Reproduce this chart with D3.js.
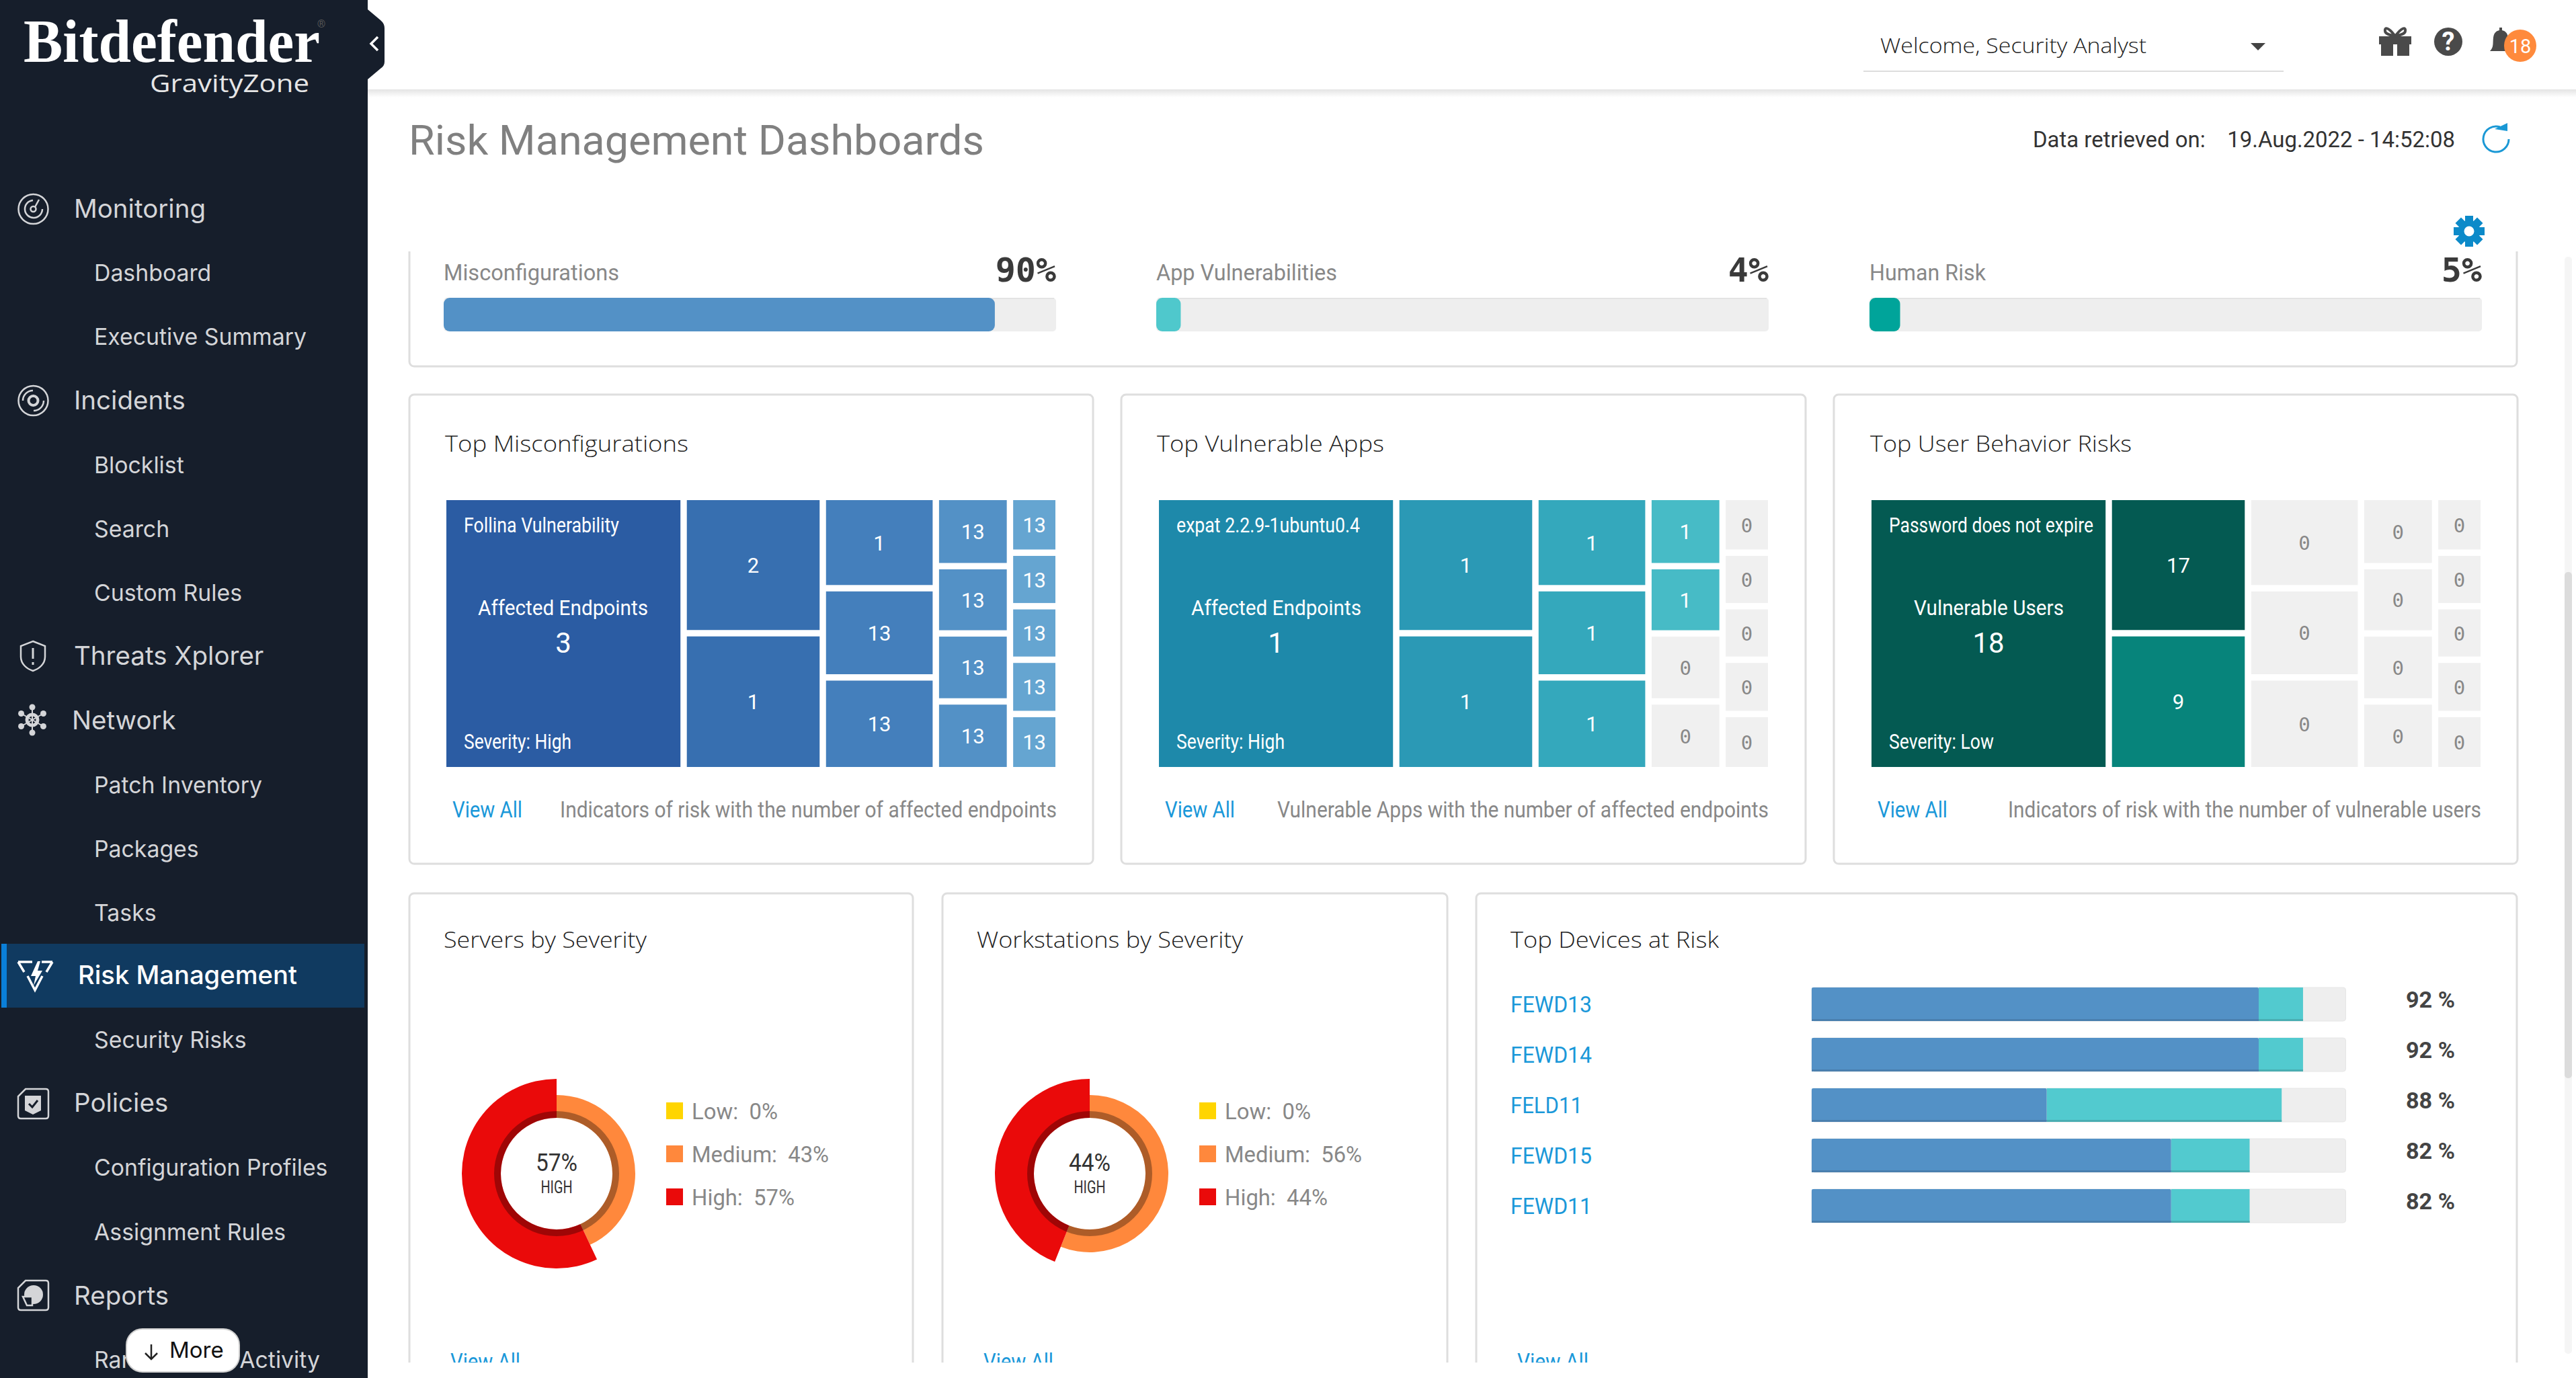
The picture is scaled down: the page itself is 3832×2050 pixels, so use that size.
<!DOCTYPE html>
<html><head><meta charset="utf-8">
<script src="https://cdn.jsdelivr.net/npm/d3@7/dist/d3.min.js"></script>
<style>html,body{margin:0;padding:0;background:#fff;overflow:hidden}svg{display:block}text{white-space:pre}</style>
</head><body><svg id="c" width="3832" height="2050" viewBox="0 0 3832 2050"></svg>
<script>
// ---- data ----
const navTop = ["Monitoring","Incidents","Threats Xplorer","Network","Policies","Reports"];
const navSub = ["Dashboard","Executive Summary","Blocklist","Search","Custom Rules","Patch Inventory","Packages","Tasks","Security Risks","Configuration Profiles","Assignment Rules","Ransomware Activity"];
const riskLabels = ["Misconfigurations","App Vulnerabilities","Human Risk"];
const riskValues = [90,4,5];
const treemapTitles = ["Top Misconfigurations","Top Vulnerable Apps","Top User Behavior Risks"];
const treemapNotes = ["Indicators of risk with the number of affected endpoints","Vulnerable Apps with the number of affected endpoints","Indicators of risk with the number of vulnerable users"];
const misconfigValues = [[3],[2,1],[1,13,13],[13,13,13,13],[13,13,13,13,13]];
const vulnAppValues = [[1],[1,1],[1,1,1],[1,1,0,0],[0,0,0,0,0]];
const userRiskValues = [[18],[17,9],[0,0,0],[0,0,0,0],[0,0,0,0,0]];
const tileWeights = [[3585],[1035,1040],[563,550,572],[280,272,275,278],[148,142,142,144,149]];
const topItemNames = ["Follina Vulnerability","expat 2.2.9-1ubuntu0.4","Password does not expire"];
const topItemMetric = ["Affected Endpoints","Affected Endpoints","Vulnerable Users"];
const topItemSeverity = ["Severity: High","Severity: High","Severity: Low"];
const severityNames = ["Low","Medium","High"];
const serverSeverity = [0,43,57];
const workstationSeverity = [0,56,44];
const devices = ["FEWD13","FEWD14","FELD11","FEWD15","FEWD11"];
const devicePartA = [83.7,83.7,44,67.3,67.3];
const devicePartB = [8.3,8.3,44,14.7,14.7];
const deviceTotal = [92,92,88,82,82];

// ---- style ----
const svg = d3.select("#c");
const ROBOTO="Roboto, sans-serif", INTER="Inter, sans-serif", OPEN="'Open Sans', sans-serif", MONO="'DejaVu Sans Mono', monospace";
const SIDE="#161e2b", LINK="#1a98d9", GREY="#888888", TRACK="#eeeeee", TITLE="#222222";
const tmColors = [
  ["#2b5ca3","#376fb0","#447fbc","#5391c6","#65a5d1"],
  ["#1e89aa","#2b99b5","#34a8bc","#47bbc6","#47bbc6"]];
const userRiskColor = d3.scaleThreshold().domain([10]).range(["#07847b","#045a52"]);
const sevColors = ["#ffd500","#ff883c","#ea0a0a"];

function T(g,s,x,y,o={}){
  const t=g.append("text").attr("x",x).attr("y",y).attr("dominant-baseline","central")
    .attr("font-family",o.font||ROBOTO).attr("font-size",o.size||33).attr("fill",o.fill||"#333")
    .attr("text-anchor",o.anchor||"start").text(s);
  if(o.weight) t.attr("font-weight",o.weight);
  if(o.w) t.attr("textLength",o.w).attr("lengthAdjust","spacingAndGlyphs");
  return t;
}
const main=svg.append("g");
function card(x0,y0,x1,y1){main.append("rect").attr("x",x0).attr("y",y0).attr("width",x1-x0).attr("height",y1-y0).attr("rx",7).attr("fill","#fff").attr("stroke","#dedede").attr("stroke-width",3);}

// ---- risk strip ----
card(609,300,3744,545);
main.append("rect").attr("x",560).attr("y",140).attr("width",3240).attr("height",234).attr("fill","#fff");
const riskX=[660,1720,2781], riskW=[261,269,173], riskC=["#5391c6","#4fc8cc","#00a49a"];
const riskScale=d3.scaleLinear().domain([0,100]).range([0,911]);
riskLabels.forEach((l,i)=>{
  T(main,l,riskX[i],405,{size:33,fill:GREY,w:riskW[i]});
  T(main,riskValues[i]+"%",riskX[i]+riskScale(100),402,{font:MONO,weight:700,size:50,anchor:"end",fill:"#3a3a3a"});
  main.append("rect").attr("x",riskX[i]).attr("y",443).attr("width",riskScale(100)).attr("height",50).attr("rx",5).attr("fill",TRACK);
  main.append("rect").attr("x",riskX[i]+3).attr("y",443).attr("width",riskScale(100)-6).attr("height",2).attr("fill","#e3e3e3");
  main.append("rect").attr("x",riskX[i]).attr("y",443).attr("width",riskScale(riskValues[i])).attr("height",50).attr("rx",9).attr("fill",riskC[i]);
});

// ---- treemaps ----
const tmCard=[[609,1626],[1668,2686],[2728,3745]];
const tmLeft=[664,1724,2784];
const tmSets=[misconfigValues,vulnAppValues,userRiskValues];
const titleW=[362,338,389], titleX=[662,1721,2782];
const noteX=[833,1900,2987], noteW=[739,731,704], viewX=[673,1733,2793];
const topW=[231,273,304], metricX=[711,1772,2847], metricW=[253,253,223], sevW=[160,161,156];
tmSets.forEach((vals,k)=>{
  card(tmCard[k][0],587,tmCard[k][1],1285);
  T(main,treemapTitles[k],titleX[k],659,{font:OPEN,size:33,w:titleW[k],fill:TITLE,weight:300});
  const rootData={children:vals.map((col,c)=>({c,children:col.map((v,r)=>({v,c,r,weight:tileWeights[c][r]}))}))};
  const root=d3.hierarchy(rootData).sum(d=>d.weight||0);
  d3.treemap().size([906,397]).paddingInner(9.5).tile(d3.treemapSliceDice).round(false)(root);
  const g=main.append("g").attr("transform",`translate(${tmLeft[k]},744)`);
  root.leaves().forEach(n=>{
    const d=n.data, zero=d.v===0;
    g.append("rect").attr("x",n.x0).attr("y",n.y0).attr("width",n.x1-n.x0).attr("height",n.y1-n.y0)
      .attr("fill",zero?"#f0f0f0":(k===2?userRiskColor(d.v):tmColors[k][d.c]));
    const cx=(n.x0+n.x1)/2, cy=(n.y0+n.y1)/2+1;
    if(d.c===0){
      T(main,topItemNames[k],tmLeft[k]+26,781,{size:31,fill:"#fff",w:topW[k]});
      T(main,topItemMetric[k],metricX[k],904,{size:32,fill:"#fff",w:metricW[k]});
      T(main,String(d.v),tmLeft[k]+n.x0+(n.x1-n.x0)/2,956,{size:42,fill:"#fff",anchor:"middle"});
      T(main,topItemSeverity[k],tmLeft[k]+26,1103,{size:31,fill:"#fff",w:sevW[k]});
    } else if(zero){
      T(g,"0",cx,cy,{font:MONO,size:29,fill:GREY,anchor:"middle"});
    } else {
      T(g,String(d.v),cx,cy,{size:31,fill:"#fff",anchor:"middle"});
    }
  });
  T(main,"View All",viewX[k],1204,{size:33,fill:LINK,w:104});
  T(main,treemapNotes[k],noteX[k],1204,{size:33,fill:GREY,w:noteW[k]});
});

// ---- donuts ----
card(609,1329,1358,2100); card(1402,1329,2153,2100); card(2196,1329,3744,2100);
const pie=d3.pie().sort(null).value(d=>d);
const sevRadius=[105,117,141];
function donut(title,titleXp,titleWp,vals,cx,cy){
  T(main,title,titleXp,1397,{font:OPEN,size:33,w:titleWp,fill:TITLE,weight:300});
  const g=main.append("g").attr("transform",`translate(${cx},${cy})`);
  pie(vals).forEach((a,i)=>{
    g.append("path").attr("d",d3.arc().innerRadius(83).outerRadius(sevRadius[i])(a)).attr("fill",sevColors[i]);
  });
  g.append("path").attr("d",d3.arc().innerRadius(83).outerRadius(93).startAngle(0).endAngle(2*Math.PI)()).attr("fill","#000").attr("opacity",0.32);
  const hi=vals[2];
  T(main,hi+"%",cx,1730,{size:36,fill:"#333",anchor:"middle",w:62});
  T(main,"HIGH",cx,1766,{size:25,fill:"#333",anchor:"middle",w:47});
  const widths=[128,204,153];
  severityNames.forEach((n,i)=>{
    const x=cx+163, y=1653+i*64;
    main.append("rect").attr("x",x).attr("y",y-13).attr("width",25).attr("height",25).attr("fill",sevColors[i]);
    T(main,`${n}:\u00a0\u00a0${vals[i]}%`,x+38,y,{size:33,fill:GREY,w:widths[i]});
  });
  T(main,"View All",cx-158,2025,{size:33,fill:LINK,w:104});
}
donut("Servers by Severity",660,302,serverSeverity,828,1746);
donut("Workstations by Severity",1453,396,workstationSeverity,1621,1746);

// ---- device bars ----
T(main,"Top Devices at Risk",2247,1397,{font:OPEN,size:33,w:310,fill:TITLE,weight:300});
const bx=d3.scaleLinear().domain([0,100]).range([2695,3489.5]);
const by=d3.scaleBand().domain(devices).range([1469,1819]).paddingInner(1/3);
devices.forEach((d,i)=>{
  const y=by(d), h=by.bandwidth();
  main.append("rect").attr("x",bx(0)).attr("y",y).attr("width",bx(100)-bx(0)).attr("height",h).attr("rx",4).attr("fill",TRACK).attr("stroke","#e6e6e6").attr("stroke-width",1);
  main.append("rect").attr("x",bx(devicePartA[i])).attr("y",y).attr("width",bx(devicePartB[i])-bx(0)).attr("height",h).attr("fill","#52cacf");
  main.append("rect").attr("x",bx(devicePartA[i])).attr("y",y+h-3).attr("width",bx(devicePartB[i])-bx(0)).attr("height",3).attr("fill","#49aeb2");
  main.append("rect").attr("x",bx(0)).attr("y",y).attr("width",bx(devicePartA[i])-bx(0)).attr("height",h).attr("rx",2).attr("fill","#5391c6");
  main.append("rect").attr("x",bx(0)).attr("y",y+h-3).attr("width",bx(devicePartA[i])-bx(0)).attr("height",3).attr("fill","#4a7fae");
  T(main,d,2247,y+h/2,{size:34,fill:LINK,w:d==="FELD11"?107:121});
  T(main,deviceTotal[i]+" %",3579,y+h/2-7,{size:33,weight:700,fill:"#444",w:73});
});
T(main,"View All",2257,2025,{size:33,fill:LINK,w:106});

// bottom clip of the scroll area
main.append("rect").attr("x",547).attr("y",2027).attr("width",3285).attr("height",30).attr("fill","#fff");

// scrollbar
main.append("rect").attr("x",3815).attr("y",382).attr("width",11).attr("height",1632).attr("rx",5).attr("fill","#f5f5f5");
main.append("rect").attr("x",3815).attr("y",851).attr("width",11).attr("height",753).attr("rx",5).attr("fill","#dcdcdc");

// ---- header ----
const grad=svg.append("defs").append("linearGradient").attr("id","sh").attr("x1",0).attr("x2",0).attr("y1",0).attr("y2",1);
grad.append("stop").attr("offset",0).attr("stop-color","#e4e4e4");
grad.append("stop").attr("offset",1).attr("stop-color","#ffffff");
main.append("rect").attr("x",547).attr("y",133).attr("width",3285).attr("height",12).attr("fill","url(#sh)");
main.append("rect").attr("x",547).attr("y",0).attr("width",3285).attr("height",133).attr("fill","#fff");
T(main,"Risk Management Dashboards",608,208,{size:62,fill:"#808080",w:856});
T(main,"Data retrieved on:    19.Aug.2022 - 14:52:08",3024,207,{size:34,fill:"#333",w:628});
T(main,"Welcome, Security Analyst",2797,67,{font:OPEN,size:31,fill:TITLE,w:396,weight:300});
main.append("line").attr("x1",2772).attr("x2",3397).attr("y1",106).attr("y2",106).attr("stroke","#dddddd").attr("stroke-width",2);
main.append("path").attr("d","M3348,64h22l-11,11z").attr("fill","#444");
// gift
const ic="#4a4a4a";
main.append("rect").attr("x",3539).attr("y",54).attr("width",48).attr("height",12).attr("fill",ic);
main.append("rect").attr("x",3542).attr("y",66).attr("width",18).attr("height",17).attr("fill",ic);
main.append("rect").attr("x",3566).attr("y",66).attr("width",18).attr("height",17).attr("fill",ic);
main.append("path").attr("d","M3563,54c-10,-14 -16,-14 -15,-8c0,5 8,6 15,8c7,-2 15,-3 15,-8c1,-6 -5,-6 -15,8z").attr("fill","none").attr("stroke",ic).attr("stroke-width",4);
// help
main.append("ellipse").attr("cx",3642).attr("cy",62).attr("rx",21).attr("ry",21).attr("fill",ic);
T(main,"?",3642,62,{size:38,weight:700,fill:"#fff",anchor:"middle"});
// bell
main.append("path").attr("d","M3704,76c6,-6 4,-12 5,-20c1,-8 5,-10 9,-11v-4h4v4c4,1 8,3 9,11v20z").attr("fill",ic);
main.append("circle").attr("cx",3749).attr("cy",68).attr("r",24).attr("fill","#ff8a3c");
T(main,"18",3749,69,{size:29,fill:"#fff",anchor:"middle"});
// refresh
main.append("path").attr("d","M3719,189A19,19 0 1 0 3732,207").attr("fill","none").attr("stroke","#1a98d5").attr("stroke-width",3);
main.append("path").attr("d","M3711,192l19,-9v12z").attr("fill","#1a98d5");
// gear
const gear=main.append("g").attr("transform","translate(3673,344)");
d3.range(8).forEach(i=>gear.append("rect").attr("x",-6).attr("y",-23).attr("width",12).attr("height",12).attr("fill","#0c8ac9").attr("transform",`rotate(${i*45})`));
gear.append("circle").attr("r",12).attr("fill","none").attr("stroke","#0c8ac9").attr("stroke-width",9);

// ---- sidebar ----
const side=svg.append("g");
side.append("rect").attr("width",547).attr("height",2050).attr("fill",SIDE);
side.append("path").attr("d","M547,14L566,30Q572,35 572,42L572,92Q572,98 566,102L547,118Z").attr("fill",SIDE);
side.append("path").attr("d","M562,55L552,65L562,75").attr("fill","none").attr("stroke","#fff").attr("stroke-width",3.5);
T(side,"Bitdefender",35,61,{font:"'Liberation Serif', serif",weight:700,size:90,fill:"#fff",w:441});
T(side,"\u00ae",478,35,{size:16,fill:"#555",anchor:"middle"});
T(side,"GravityZone",223,122,{font:OPEN,size:37,fill:"#e6e6e6",w:237});

const navFill="#d4d5d8";
const topY=[310,595,975,1071,1640,1927], topX=[110,110,110,107,110,110];
navTop.forEach((n,i)=>T(side,n,topX[i],topY[i],{font:INTER,size:38.5,fill:navFill}));
const subY=[405,500,691,786,881,1167,1262,1357,1546,1736,1832,2022];
navSub.forEach((n,i)=>T(side,n,140,subY[i],{font:INTER,size:33.8,fill:navFill}));
side.append("rect").attr("x",2).attr("y",1404).attr("width",540).attr("height",95).attr("fill","#103a60");
side.append("rect").attr("x",2).attr("y",1404).attr("width",8).attr("height",95).attr("fill","#0a7fd9");
T(side,"Risk Management",116,1450,{font:INTER,size:38.5,weight:500,fill:"#fff",w:326});

// icons
const st=(p,w=2.5)=>p.attr("fill","none").attr("stroke",navFill).attr("stroke-width",w);
st(side.append("circle").attr("cx",49.5).attr("cy",311).attr("r",22));
st(side.append("path").attr("d","M49,298A13,13 0 1 0 63,311"));
st(side.append("circle").attr("cx",49.5).attr("cy",311).attr("r",4));
st(side.append("path").attr("d","M52,308L58,297"));
st(side.append("circle").attr("cx",49.5).attr("cy",596).attr("r",22));
st(side.append("circle").attr("cx",49.5).attr("cy",596).attr("r",7),4);
st(side.append("path").attr("d","M34,596A15,15 0 0 1 49,581M65,596A15,15 0 0 1 50,611"));
st(side.append("path").attr("d","M49,954L67,961V977C67,988 58,995 49,998C40,995 31,988 31,977V961Z"));
st(side.append("path").attr("d","M49,964V980M49,985V989"),3);
st(side.append("circle").attr("cx",48).attr("cy",1071).attr("r",8),5);
d3.range(6).forEach(i=>{const a=i*Math.PI/3+Math.PI/6,x=48+19*Math.cos(a),y=1071+19*Math.sin(a);
  side.append("circle").attr("cx",x).attr("cy",y).attr("r",4.5).attr("fill",navFill);
  st(side.append("line").attr("x1",48).attr("y1",1071).attr("x2",x).attr("y2",y),2);});
side.append("path").attr("d","M27,1431H48M27,1431L36,1446M78,1431H62M78,1431L69,1446M41,1452L52,1473L63,1452").attr("fill","none").attr("stroke","#fff").attr("stroke-width",3.5);
side.append("path").attr("d","M56,1430L46,1452H53L50,1466L63,1444H56L60,1430Z").attr("fill","#fff");
[1642,1927].forEach(y=>{
  st(side.append("path").attr("d",`M38,${y-22}H68Q72,${y-22} 72,${y-18}V${y+18}Q72,${y+22} 68,${y+22}H31Q27,${y+22} 27,${y+18}V${y-11}Z`));
});
side.append("path").attr("d","M37,1630H61V1652L49,1658L37,1652Z").attr("fill",navFill);
side.append("path").attr("d","M43,1642L48,1647L56,1637").attr("fill","none").attr("stroke",SIDE).attr("stroke-width",3);
side.append("circle").attr("cx",50).attr("cy",1926).attr("r",14).attr("fill",navFill);
side.append("path").attr("d","M34,1929H48V1942H40Z").attr("fill",SIDE).attr("stroke",navFill).attr("stroke-width",2.5);

// more button
side.append("rect").attr("x",188).attr("y",1977).attr("width",168).attr("height",64).attr("rx",24).attr("fill","#fff").attr("stroke","#cfcfcf").attr("stroke-width",2);
side.append("path").attr("d","M225,2000V2022M216,2013L225,2022L234,2013").attr("fill","none").attr("stroke","#222").attr("stroke-width",2.5);
T(side,"More",252,2008,{font:INTER,size:33,fill:"#111"});
</script></body></html>
